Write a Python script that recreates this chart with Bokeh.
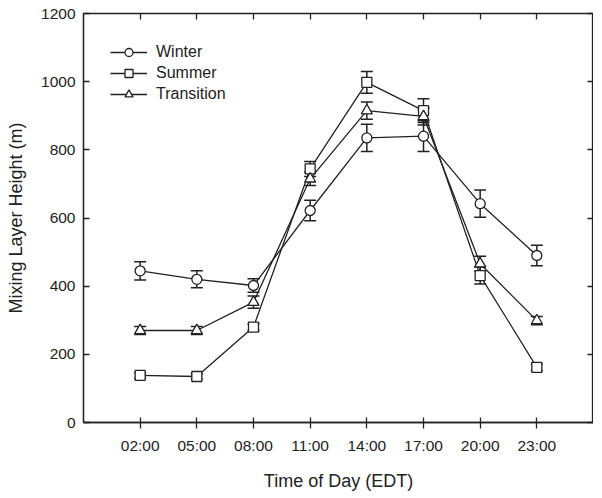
from bokeh.plotting import figure
from bokeh.models import (FixedTicker, LinearAxis, Whisker, TeeHead, ColumnDataSource,
                          Legend, LegendItem, Range1d)
from bokeh.embed import file_html
from bokeh.resources import INLINE

times = ["02:00", "05:00", "08:00", "11:00", "14:00", "17:00", "20:00", "23:00"]
winter = [445, 420, 402, 622, 835, 840, 642, 490]
winter_err = [27, 25, 20, 30, 40, 45, 40, 30]
summer = [138, 135, 280, 744, 998, 915, 431, 162]
summer_err = [8, 8, 10, 22, 32, 35, 25, 10]
transition = [270, 270, 353, 715, 915, 898, 466, 299]
transition_err = [12, 12, 18, 20, 25, 25, 22, 12]
y_ticks = [0, 200, 400, 600, 800, 1000, 1200]

FONT = "Liberation Sans"
INK = "#222222"

xs = list(range(1, len(times) + 1))

p = figure(width=593, height=498, output_backend="svg", toolbar_location=None,
           x_range=Range1d(0, 9), y_range=Range1d(0, 1200),
           min_border_left=83, min_border_right=0, min_border_top=13, min_border_bottom=76)
p.grid.visible = False
p.outline_line_color = INK
p.outline_line_width = 1.3
p.border_fill_color = "white"

# axes
p.xaxis.ticker = FixedTicker(ticks=xs)
p.xaxis.major_label_overrides = {i: t for i, t in zip(xs, times)}
p.yaxis.ticker = FixedTicker(ticks=y_ticks)
for ax in (p.xaxis[0], p.yaxis[0]):
    ax.axis_line_color = INK
    ax.axis_line_width = 1.3
    ax.major_tick_line_color = INK
    ax.major_tick_line_width = 1.3
    ax.minor_tick_line_color = None
    ax.major_label_text_font = FONT
    ax.major_label_text_font_size = "15.5px"
    ax.major_label_text_color = INK
    ax.axis_label_text_font = FONT
    ax.axis_label_text_font_size = "18px"
    ax.axis_label_text_font_style = "normal"
    ax.axis_label_text_color = INK
p.xaxis.major_tick_in = 5
p.xaxis.major_tick_out = 6
p.yaxis.major_tick_in = 6
p.yaxis.major_tick_out = 0
p.xaxis.axis_label = "Time of Day (EDT)"
p.yaxis.axis_label = "Mixing Layer Height (m)"
p.xaxis.major_label_standoff = 8
p.xaxis.axis_label_standoff = 14
p.yaxis.major_label_standoff = 8
p.yaxis.axis_label_standoff = 12

top = LinearAxis(ticker=FixedTicker(ticks=xs),
                 major_label_overrides={i: "" for i in xs},
                 major_label_standoff=0, axis_label_standoff=0,
                 major_tick_in=6, major_tick_out=0, minor_tick_line_color=None,
                 axis_line_color=INK, major_tick_line_color=INK, major_tick_line_width=1.3)
right = LinearAxis(ticker=FixedTicker(ticks=y_ticks),
                   major_label_overrides={t: "" for t in y_ticks},
                   major_label_standoff=0, axis_label_standoff=0,
                   major_tick_in=6, major_tick_out=0, minor_tick_line_color=None,
                   axis_line_color=INK, major_tick_line_color=INK, major_tick_line_width=1.3)
p.add_layout(top, "above")
p.add_layout(right, "right")

series = [("Winter", winter, winter_err, "circle", 10),
          ("Summer", summer, summer_err, "square", 10),
          ("Transition", transition, transition_err, "triangle", 11)]

items = []
for name, vals, errs, marker, size in series:
    src = ColumnDataSource(dict(x=xs, y=vals,
                                lo=[v - e for v, e in zip(vals, errs)],
                                hi=[v + e for v, e in zip(vals, errs)]))
    ln = p.line("x", "y", source=src, line_color=INK, line_width=1.3)
    w = Whisker(source=src, base="x", upper="hi", lower="lo", line_color=INK, line_width=1.5,
                upper_head=TeeHead(size=12, line_color=INK, line_width=1.5),
                lower_head=TeeHead(size=12, line_color=INK, line_width=1.5))
    p.add_layout(w)
    sc = p.scatter("x", "y", source=src, marker=marker, size=size, fill_color="white",
                   line_color=INK, line_width=1.3)
    items.append(LegendItem(label=name, renderers=[ln, sc]))

legend = Legend(items=items, location=(27, 318), border_line_color=None,
                background_fill_alpha=0, padding=0, margin=0, spacing=1,
                label_text_font=FONT, label_text_font_size="16px", label_text_color=INK,
                glyph_width=37, glyph_height=20, label_height=20, label_standoff=9)
p.add_layout(legend)

open("out.html", "w").write(file_html(p, INLINE))
